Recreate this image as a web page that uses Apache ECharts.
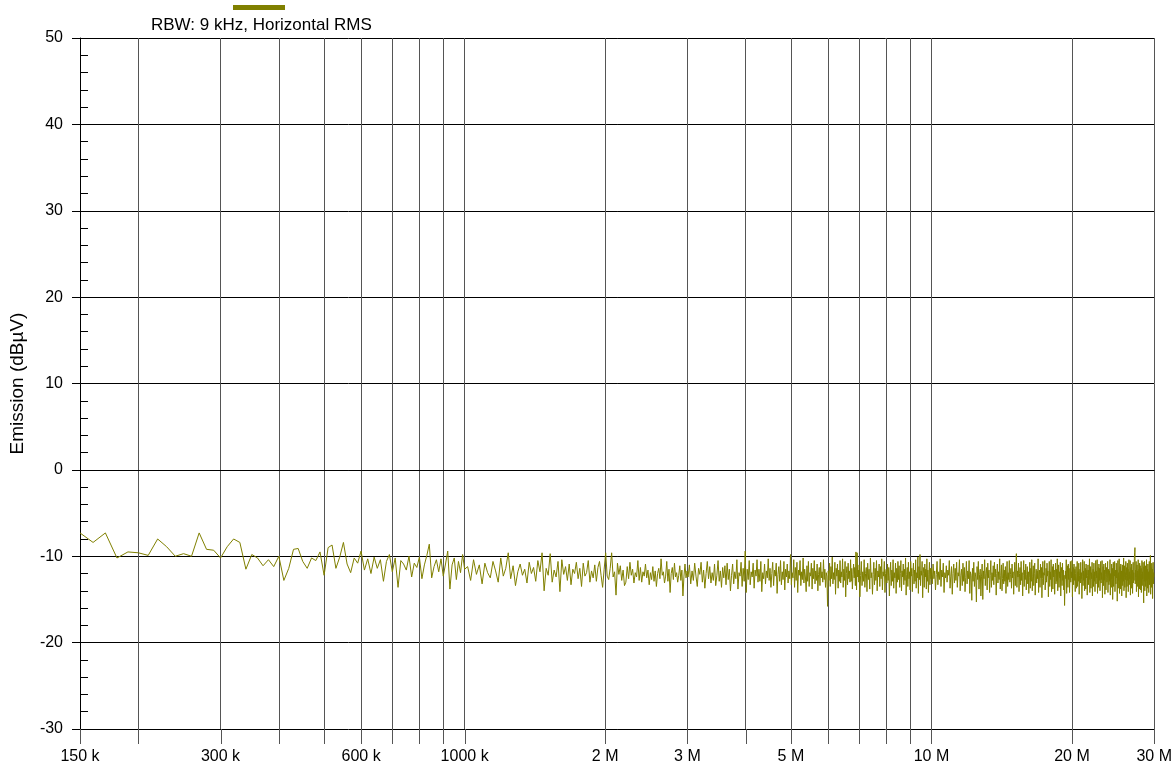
<!DOCTYPE html>
<html>
<head>
<meta charset="utf-8">
<script src="https://cdn.jsdelivr.net/npm/echarts@6/dist/echarts.min.js"></script>
<style>html,body{margin:0;padding:0;background:#fff;}#c{width:1175px;height:772px;}</style>
</head>
<body>
<div id="c"></div>
<script>
// Sweep segments (frequency in kHz): start and step of each segment
const sweepStartKHz = [150, 1015, 3010, 7000, 10000];
const sweepStepKHz = [10, 15, 20, 25, 40];

// Measured levels (dBµV) per segment
const level150kTo1M = [
-7.3,-8.4,-7.3,-10.2,-9.5,-9.6,-9.9,-8.0,-8.9,-10.0,-9.7,-10.0,-7.3,-9.2,-9.3,
-10.2,-8.9,-8.0,-8.4,-11.5,-9.8,-10.2,-11.1,-10.4,-11.2,
-10.0,-12.8,-11.4,-9.2,-9.1,-10.6,-11.4,-10.2,-10.5,-9.5,
-12.2,-9.0,-8.7,-11.4,-10.1,-8.4,-10.9,-11.9,-10.2,-10.8,
-9.4,-11.6,-10.3,-12.0,-10.1,-11.4,-10.4,-12.9,-10.6,-9.8,
-11.8,-10.2,-13.6,-10.5,-10.9,-11.6,-10.0,-12.4,-10.8,-11.3,
-10.1,-12.6,-11.0,-9.9,-8.6,-12.5,-11.2,-10.4,-11.8,-10.3,
-12.3,-10.9,-9.4,-13.8,-11.0,-10.2,-12.7,-10.6,-11.9,-9.8,-11.5
];
const level1MTo3M = [
-11.2,-12.8,-10.4,-12.1,-11.0,-13.2,-10.8,-11.9,-12.5,-10.6,
-11.7,-13.0,-10.2,-12.3,-11.4,-9.6,-12.6,-11.1,-13.4,-11.8,
-10.9,-12.2,-11.5,-13.1,-10.7,-12.0,-11.3,-12.9,-10.5,-11.8,
-9.6,-14.0,-11.4,-12.2,-9.7,-13.0,-11.6,-12.4,-10.6,-14.1,
-10.4,-12.1,-11.2,-12.8,-10.9,-13.3,-11.5,-12.0,-10.7,-12.6,
-11.4,-13.5,-10.8,-12.3,-11.9,-10.5,-13.0,-11.7,-12.5,-11.0,
-12.9,-11.3,-10.6,-12.2,-13.6,-11.5,-9.6,-12.3,-12.7,-11.4,
-9.6,-12.4,-11.8,-14.5,-10.8,-12.1,-11.1,-12.8,-11.6,-13.4,
-13.0,-11.2,-12.6,-10.7,-12.2,-11.5,-13.1,-11.9,-12.4,-10.5,
-12.8,-11.3,-13.0,-11.8,-12.3,-10.9,-12.5,-11.6,-13.3,-11.9,
-12.7,-11.2,-12.9,-11.7,-13.5,-12.0,-11.4,-12.6,-10.3,-12.2,
-11.8,-13.1,-12.3,-10.6,-12.9,-11.5,-14.2,-12.0,-11.3,-12.7,
-10.8,-12.4,-11.9,-13.0,-12.2,-11.1,-12.8,-11.6,-14.6,-12.3,-10.9,-12.5,-11.7
];
const level3MTo7M = [
-12.4,-11.0,-13.2,-11.7,-12.8,-10.8,-12.3,-13.5,-11.4,-12.1,
-10.7,-13.0,-11.6,-13.7,-12.0,-10.6,-12.6,-11.2,-13.1,-11.9,
-12.8,-10.9,-13.4,-12.2,-10.5,-12.9,-11.7,-13.6,-11.3,-12.5,
-11.1,-13.3,-10.8,-12.7,-11.5,-14.0,-12.2,-10.9,-13.2,-11.8,
-12.6,-10.4,-13.8,-11.9,-12.3,-10.7,-13.5,-11.4,-12.9,-9.4,
-14.2,-11.5,-12.7,-10.5,-13.3,-11.8,-12.4,-10.8,-13.7,-11.6,
-12.3,-10.4,-13.0,-11.5,-12.9,-10.6,-14.1,-11.9,-12.6,-10.9,
-13.2,-11.7,-12.5,-10.3,-12.8,-11.4,-13.6,-12.0,-10.7,-13.4,
-11.6,-12.3,-10.8,-14.3,-12.1,-11.2,-12.9,-10.5,-13.3,-11.8,
-12.7,-10.6,-13.9,-11.5,-12.4,-10.9,-13.1,-11.7,-12.6,-9.8,
-13.3,-11.9,-12.5,-10.4,-13.6,-11.3,-12.8,-10.7,-14.2,-11.6,
-12.2,-10.5,-13.4,-11.8,-12.7,-10.2,-13.1,-11.5,-12.4,-14.1,
-11.1,-12.9,-10.6,-13.5,-11.9,-12.3,-10.8,-13.8,-11.4,-12.6,
-10.5,-13.2,-11.7,-12.8,-10.9,-14.0,-12.1,-11.3,-13.4,-10.7,
-12.5,-11.8,-13.0,-10.4,-12.7,-11.5,-13.6,-11.9,-12.3,-15.8,
-11.7,-12.8,-10.8,-13.5,-11.2,-12.6,-10.1,-13.2,-11.9,-12.7,
-10.7,-14.4,-11.4,-12.3,-10.9,-13.7,-11.6,-12.9,-10.5,-13.1,
-11.8,-12.4,-10.3,-13.6,-11.5,-12.8,-10.6,-14.7,-12.0,-11.2,
-13.3,-10.8,-12.6,-11.7,-13.0,-10.4,-12.9,-11.4,-13.8,-12.1,
-10.9,-12.5,-11.3,-13.4,-9.5,-13.9,-9.6,-12.4,-11.6,-13.0
];
const level7MTo10M = [
-11.0,-14.7,-12.2,-10.6,-13.4,-11.8,-12.9,-10.4,-13.6,-12.0,
-11.3,-14.1,-10.8,-12.7,-11.5,-13.8,-10.2,-12.5,-11.9,-14.4,
-12.1,-10.7,-13.3,-11.4,-12.8,-10.5,-14.0,-11.7,-12.4,-10.9,
-13.5,-11.2,-12.6,-10.3,-13.9,-11.8,-12.3,-10.6,-14.2,-12.0,
-11.5,-13.1,-10.9,-12.8,-11.3,-14.6,-12.2,-10.7,-13.4,-11.6,
-12.9,-10.4,-13.7,-11.9,-12.5,-10.8,-14.3,-11.4,-13.0,-10.6,
-12.7,-11.1,-13.6,-12.0,-10.5,-14.0,-11.7,-12.4,-10.9,-13.3,
-11.5,-12.8,-10.2,-14.5,-12.1,-11.3,-13.5,-10.7,-12.6,-11.8,
-13.9,-10.6,-12.3,-11.4,-14.1,-12.0,-10.8,-13.2,-11.6,-12.9,
-10.4,-13.7,-11.9,-12.5,-10.1,-14.3,-11.2,-12.7,-9.8,-13.4,
-11.7,-12.2,-10.6,-14.8,-12.0,-11.3,-13.6,-10.9,-12.4,-11.5,
-13.8,-10.3,-12.9,-11.6,-14.2,-12.1,-10.7,-13.3,-11.4,-12.6
];
const level10MTo30M = [
-11.4,-13.2,-10.9,-12.6,-11.7,-13.9,-12.1,-10.6,-13.3,-11.8,
-12.7,-10.3,-13.5,-11.6,-12.4,-10.8,-14.2,-11.9,-12.5,-11.1,
-13.0,-11.6,-12.2,-10.5,-13.7,-12.3,-11.2,-14.4,-12.0,-10.9,
-13.1,-11.4,-12.8,-10.7,-13.6,-11.9,-12.3,-10.4,-14.0,-12.2,
-11.5,-13.4,-10.8,-12.9,-11.3,-14.1,-12.5,-10.6,-13.2,-11.7,
-12.6,-10.5,-14.3,-11.8,-12.2,-15.1,-11.4,-12.9,-10.7,-13.5,
-11.9,-12.4,-15.3,-11.2,-12.7,-10.6,-13.8,-12.1,-11.5,-14.6,
-12.3,-10.9,-15.0,-11.7,-12.6,-10.4,-13.4,-12.0,-11.3,-13.9,
-10.8,-12.5,-11.6,-14.2,-12.2,-10.5,-13.6,-11.9,-12.8,-11.1,
-13.3,-10.7,-12.4,-11.5,-14.5,-12.0,-10.9,-13.1,-11.8,-12.7,
-10.3,-13.8,-12.2,-11.0,-14.0,-12.6,-10.8,-13.2,-11.6,-12.9,
-11.2,-14.3,-12.4,-10.6,-13.5,-11.9,-12.7,-10.5,-13.0,-12.1,
-11.4,-13.7,-10.9,-12.5,-11.8,-14.4,-12.3,-10.7,-13.4,-11.5,
-9.7,-13.6,-11.7,-12.4,-10.8,-14.1,-12.0,-11.3,-13.3,-10.6,
-12.8,-11.9,-14.6,-12.2,-10.5,-13.5,-11.6,-12.7,-10.9,-13.9,
-12.1,-11.2,-13.2,-11.8,-14.3,-12.5,-10.7,-13.7,-11.4,-12.9,
-10.4,-14.0,-12.3,-11.1,-13.4,-12.0,-10.8,-14.5,-12.4,-11.5,
-13.1,-11.7,-12.6,-10.3,-14.2,-12.1,-11.6,-13.6,-10.9,-12.5,
-11.3,-14.8,-12.6,-10.6,-13.3,-11.9,-12.2,-10.5,-13.9,-12.8,
-11.4,-13.0,-10.8,-12.3,-11.7,-14.7,-12.2,-10.6,-13.5,-11.8,
-12.7,-10.4,-14.1,-12.0,-11.2,-13.8,-10.9,-12.4,-11.6,-14.4,
-12.1,-10.8,-13.2,-11.5,-12.9,-10.3,-14.0,-12.5,-11.0,-13.6,
-11.8,-12.5,-10.7,-14.6,-12.0,-11.3,-13.4,-10.8,-12.8,-11.6,
-13.9,-12.2,-15.7,-13.1,-11.7,-12.6,-10.4,-14.3,-12.0,-11.1,
-13.6,-10.9,-12.7,-11.4,-14.2,-12.3,-10.6,-13.0,-11.8,-12.5,
-10.5,-14.7,-12.1,-11.3,-13.3,-10.9,-12.8,-11.5,-14.1,-12.0,
-11.2,-13.7,-12.4,-10.6,-13.5,-11.8,-12.9,-10.8,-14.4,-12.2,
-11.5,-13.1,-10.7,-12.6,-11.9,-14.9,-12.3,-10.4,-13.4,-11.7,
-12.8,-10.6,-14.0,-12.1,-11.4,-13.8,-10.9,-12.5,-11.6,-14.5,
-12.2,-11.0,-13.3,-11.6,-12.7,-10.3,-14.2,-12.4,-11.2,-13.7,
-11.9,-12.6,-10.7,-14.6,-12.0,-11.5,-13.5,-10.8,-12.9,-11.8,
-14.1,-12.3,-10.5,-13.2,-11.7,-12.5,-10.4,-14.3,-12.1,-11.3,
-13.6,-10.9,-12.8,-11.4,-14.0,-12.4,-10.6,-13.1,-11.9,-12.7,
-10.5,-14.8,-12.2,-11.2,-13.4,-10.9,-12.8,-11.6,-14.4,-12.1,
-10.8,-13.9,-12.5,-11.3,-13.0,-12.6,-10.6,-14.2,-12.3,-11.5,
-13.3,-11.7,-12.9,-10.4,-14.5,-12.0,-11.8,-13.6,-10.9,-12.6,
-11.4,-15.0,-12.7,-10.7,-13.5,-11.8,-12.3,-10.6,-14.1,-12.9,
-11.6,-13.2,-10.8,-12.5,-11.6,-15.2,-12.4,-10.5,-13.7,-11.9,
-12.8,-10.3,-14.3,-12.1,-11.2,-13.8,-10.9,-12.6,-11.7,-14.6,
-12.3,-11.0,-13.4,-11.4,-12.9,-10.2,-14.0,-12.5,-11.1,-13.6,
-11.9,-12.7,-10.6,-14.8,-12.2,-11.3,-13.5,-10.8,-12.8,-11.5,
-14.1,-12.4,-10.4,-13.3,-11.8,-12.6,-10.5,-14.5,-12.0,-11.3,
-13.7,-10.9,-12.6,-11.6,-14.3,-12.5,-10.7,-13.1,-11.9,-12.8,
-10.3,-9.6,-9.0,-13.2,-11.6,-12.4,-10.6,-14.1,-12.3,-11.0,
-13.5,-11.7,-12.8,-10.4,-14.7,-12.2,-11.5,-13.8,-10.8,-12.7,
-11.1,-13.9,-12.3,-11.4,-14.2,-12.0,-10.5,-13.4,-11.8,-12.6,
-10.7,-13.6,-15.4,-11.2,-12.9,-10.6,-14.0,-12.3,-11.1,-13.5,
-11.6,-12.8,-10.4,-14.6,-12.1,-11.5,-13.7,-10.9,-12.6,-11.8,
-14.2,-12.0,-10.6,-13.3,-11.7,-12.5,-9.9,-14.4,-12.2,-11.3,
-13.6,-10.8,-12.7,-11.5,-14.9,-12.3,-10.7,-13.2,-11.9,-12.4
];

const xGridValues = [150000,200000,300000,400000,500000,600000,700000,800000,900000,1000000,
  2000000,3000000,4000000,5000000,6000000,7000000,8000000,9000000,10000000,20000000,30000000];
const xLabelValues = [150000,300000,600000,1000000,2000000,3000000,5000000,10000000,20000000,30000000];

const seriesName = 'RBW: 9 kHz, Horizontal RMS';
const yAxisName = 'Emission (dBµV)';
const yMin = -30, yMax = 50;

const segments = [level150kTo1M, level1MTo3M, level3MTo7M, level7MTo10M, level10MTo30M];
const data = [];
segments.forEach(function (vals, s) {
  vals.forEach(function (v, i) {
    data.push([(sweepStartKHz[s] + sweepStepKHz[s] * i) * 1000, v]);
  });
});
const tickData = xGridValues.map(function (f) { return [f, yMin]; });

const FONT = '"Liberation Sans", Arial, sans-serif';
const chart = echarts.init(document.getElementById('c'));
chart.setOption({
  animation: false,
  backgroundColor: '#fff',
  textStyle: { fontFamily: FONT },
  title: {
    text: seriesName, left: 151, top: 17, padding: 0,
    textStyle: { fontSize: 17, fontWeight: 'normal', color: '#000', fontFamily: FONT }
  },
  legend: {
    left: 233, top: 5, padding: 0, itemWidth: 52, itemHeight: 5, icon: 'rect',
    formatter: function () { return ''; }, selectedMode: false,
    data: [seriesName]
  },
  grid: { left: 80, right: 20, top: 38, bottom: 43 },
  xAxis: {
    type: 'log', logBase: 10, min: 150000, max: 30000000,
    axisLine: { show: true, lineStyle: { color: '#000', width: 1 } },
    axisTick: { show: false, customValues: xGridValues },
    axisLabel: {
      customValues: xLabelValues, margin: 20, fontSize: 16, color: '#000', fontFamily: FONT,
      formatter: function (v) {
        if (v < 1500000) return Math.round(v / 1000) + ' k';
        return Math.round(v / 1000000) + ' M';
      }
    },
    splitLine: { show: true, lineStyle: { color: '#555', width: 1 } },
    minorTick: { show: false }, minorSplitLine: { show: false }
  },
  yAxis: {
    type: 'value', min: yMin, max: yMax, interval: 10,
    name: yAxisName, nameLocation: 'middle', nameGap: 53,
    nameTextStyle: { fontSize: 19, color: '#000', fontFamily: FONT },
    axisLine: { show: true, lineStyle: { color: '#000', width: 1 } },
    axisTick: { show: true, length: 8, lineStyle: { color: '#000' } },
    minorTick: { show: true, splitNumber: 5, length: -8, lineStyle: { color: '#000' } },
    axisLabel: { margin: 17, fontSize: 16, color: '#000', fontFamily: FONT },
    splitLine: { show: true, lineStyle: { color: '#000', width: 1 } }
  },
  series: [{
    name: seriesName, type: 'line', data: data, showSymbol: false, symbol: 'none',
    lineStyle: { color: '#808000', width: 1 }, itemStyle: { color: '#808000' },
    sampling: null, silent: true, z: 3
  }, {
    name: 'xTicks', type: 'custom', data: tickData, clip: false, silent: true, z: 1,
    renderItem: function (params, api) {
      const p = api.coord([api.value(0), api.value(1)]);
      const x = Math.round(p[0]) + 0.5;
      return {
        type: 'line',
        shape: { x1: x, y1: p[1], x2: x, y2: p[1] + 15 },
        style: { stroke: '#555', lineWidth: 1 }
      };
    }
  }]
});
</script>
</body>
</html>
